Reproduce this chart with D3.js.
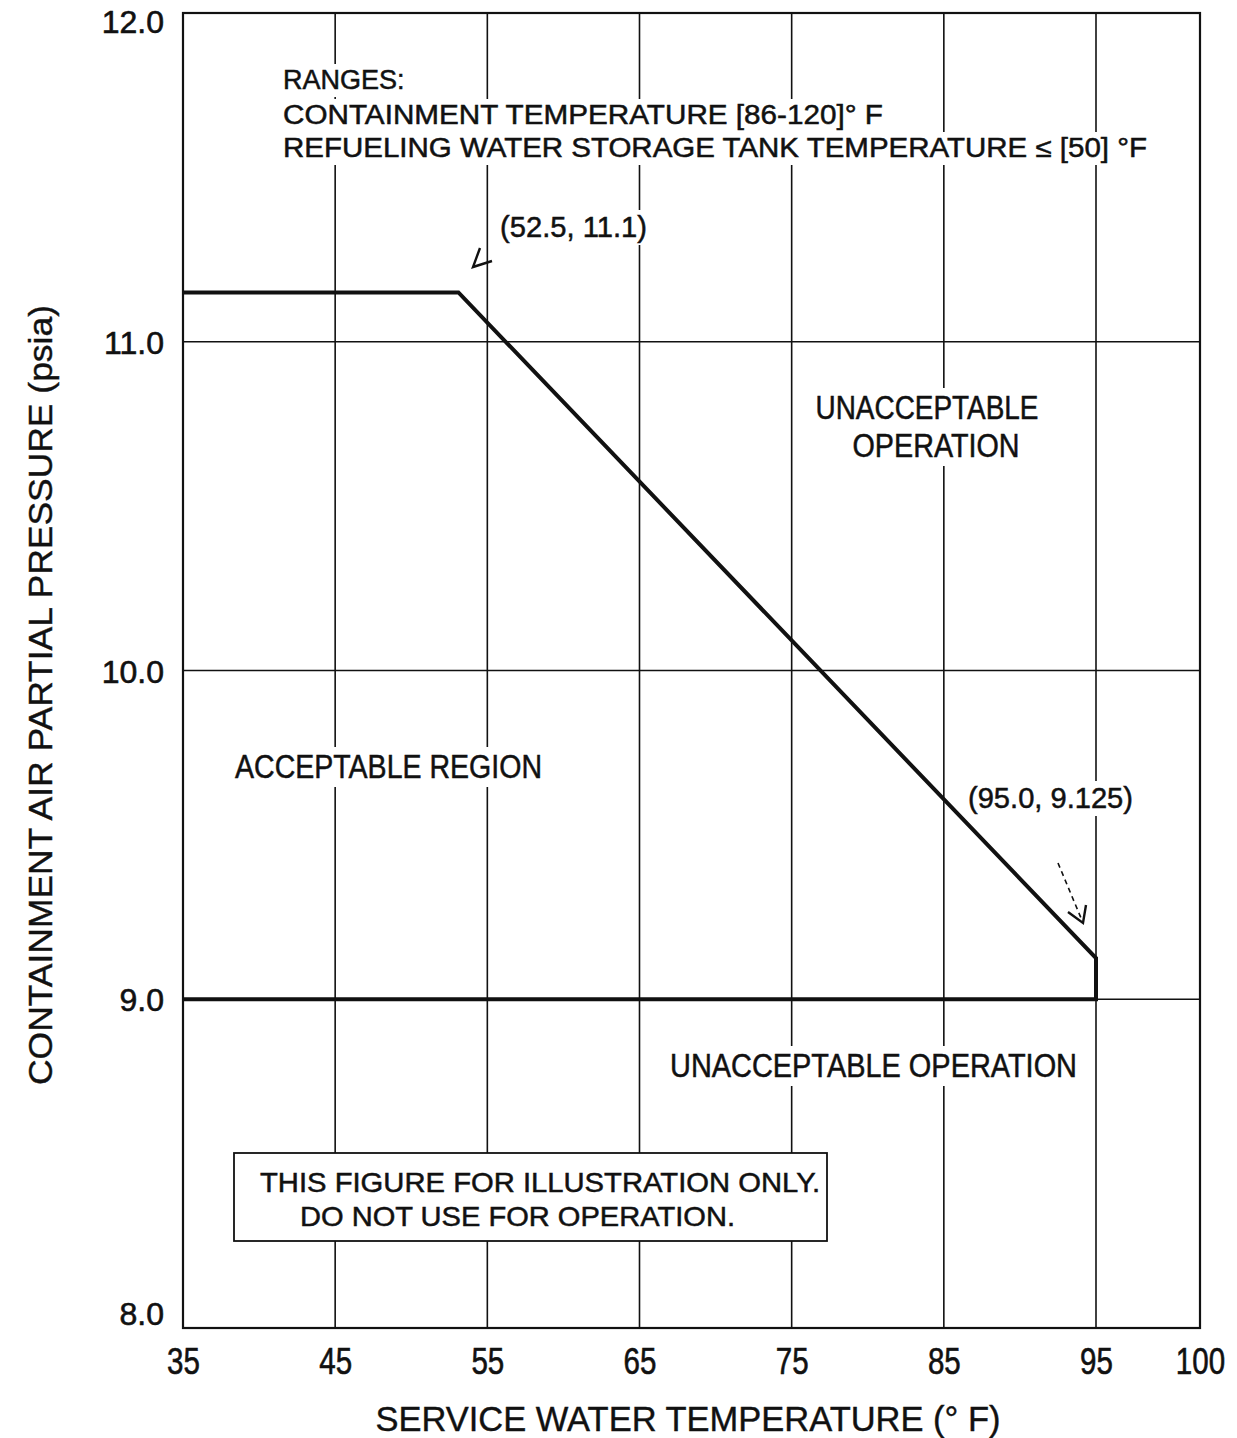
<!DOCTYPE html>
<html>
<head>
<meta charset="utf-8">
<script src="https://cdn.jsdelivr.net/npm/d3@7"></script>
<style>
  html, body { margin: 0; padding: 0; background: #fff; }
  svg text { font-family: "Liberation Sans", Arial, Helvetica, sans-serif; fill: #111; }
</style>
</head>
<body>
<svg id="chart" width="1237" height="1438"></svg>
<script>
// ---------- data ----------
const xTickValues = [35, 45, 55, 65, 75, 85, 95, 100];
const xTickLabels = ["35", "45", "55", "65", "75", "85", "95", "100"];
const yTickValues = [8, 9, 10, 11, 12];
const yTickLabels = ["8.0", "9.0", "10.0", "11.0", "12.0"];
// limit curve: service water temperature (°F) vs containment air partial pressure (psia)
const limitTemp = [35, 53.1, 95.0, 95.0, 35];
const limitPress = [11.15, 11.15, 9.125, 9.0, 9.0];

// ---------- layout ----------
const svg = d3.select("#chart");
const pL = 183, pR = 1200, pT = 13, pB = 1328;
const ink = "#111";

const x = d3.scaleLinear().domain([35, 95, 100]).range([pL, 1096, pR]);
const y = d3.scaleLinear().domain([8, 12]).range([pB, pT]);

// grid lines
const grid = svg.append("g");
grid.selectAll("line.v").data(xTickValues.filter(v => v > 35 && v < 100)).join("line")
  .attr("class", "v")
  .attr("x1", d => x(d)).attr("x2", d => x(d))
  .attr("y1", pT).attr("y2", pB)
  .attr("stroke", ink).attr("stroke-width", 1.6);
grid.selectAll("line.h").data(yTickValues.filter(v => v > 8 && v < 12)).join("line")
  .attr("class", "h")
  .attr("x1", pL).attr("x2", pR)
  .attr("y1", d => y(d)).attr("y2", d => y(d))
  .attr("stroke", ink).attr("stroke-width", 1.6);

// frame
svg.append("rect").attr("x", pL).attr("y", pT)
  .attr("width", pR - pL).attr("height", pB - pT)
  .attr("fill", "none").attr("stroke", ink).attr("stroke-width", 2.2);

// limit curve
const pts = limitTemp.map((t, i) => [t, limitPress[i]]);
svg.append("path")
  .attr("d", d3.line().x(d => x(d[0])).y(d => y(d[1]))(pts))
  .attr("fill", "none").attr("stroke", ink).attr("stroke-width", 4)
  .attr("stroke-linejoin", "miter");

// axes tick labels
const xAxis = d3.axisBottom(x).tickValues(xTickValues)
  .tickFormat((d, i) => xTickLabels[i]).tickSize(0).tickPadding(0);
const gx = svg.append("g").attr("transform", `translate(0,${pB})`).call(xAxis);
gx.select(".domain").remove();
gx.selectAll("text").attr("font-size", 36).attr("dy", null).attr("y", 46)
  .style("font-family", "'Liberation Sans', Arial, sans-serif")
  .attr("fill", ink).attr("stroke", ink).attr("stroke-width", 0.6);
gx.selectAll("text").each(function () {
  const w = this.getComputedTextLength();
  d3.select(this).attr("textLength", w * 0.82).attr("lengthAdjust", "spacingAndGlyphs");
});

const yAxis = d3.axisLeft(y).tickValues(yTickValues)
  .tickFormat((d, i) => yTickLabels[i]).tickSize(0).tickPadding(19);
const gy = svg.append("g").attr("transform", `translate(${pL},0)`).call(yAxis);
gy.select(".domain").remove();
gy.selectAll("text").attr("font-size", 32).attr("fill", ink)
  .attr("stroke", ink).attr("stroke-width", 0.6)
  .style("font-family", "'Liberation Sans', Arial, sans-serif")
  .attr("dy", d => d === 12 ? "0.62em" : d === 8 ? "-0.12em" : "0.36em");

// axis titles
svg.append("text").attr("x", 688).attr("y", 1431)
  .attr("text-anchor", "middle").attr("font-size", 35)
  .attr("stroke", ink).attr("stroke-width", 0.4)
  .attr("textLength", 625).attr("lengthAdjust", "spacingAndGlyphs")
  .text("SERVICE WATER TEMPERATURE (° F)");
svg.append("text").attr("transform", "translate(52,695) rotate(-90)")
  .attr("text-anchor", "middle").attr("font-size", 33)
  .attr("stroke", ink).attr("stroke-width", 0.4)
  .attr("textLength", 780).attr("lengthAdjust", "spacingAndGlyphs")
  .text("CONTAINMENT AIR PARTIAL PRESSURE (psia)");

// arrows
svg.append("path").attr("d", "M480,248 L473,267 L492,261")
  .attr("fill", "none").attr("stroke", ink).attr("stroke-width", 2.4);
svg.append("line").attr("x1", 1058).attr("y1", 863).attr("x2", 1081).attr("y2", 918)
  .attr("stroke", ink).attr("stroke-width", 1.6).attr("stroke-dasharray", "5,4");
svg.append("path").attr("d", "M1068,912 L1083,923 L1086,905")
  .attr("fill", "none").attr("stroke", ink).attr("stroke-width", 2.4);

// disclaimer box (drawn before its text)
svg.append("rect").attr("x", 234).attr("y", 1153).attr("width", 593).attr("height", 88)
  .attr("fill", "#fff").attr("stroke", ink).attr("stroke-width", 1.8);

// annotation texts on white patches that interrupt the grid lines
const notes = svg.append("g");
function label(tx, ty, str, size, len, anchor) {
  const g = notes.append("g");
  const bg = g.append("rect").attr("fill", "#fff");
  const t = g.append("text").attr("x", tx).attr("y", ty)
    .attr("font-size", size).attr("text-anchor", anchor || "start")
    .attr("stroke", ink).attr("stroke-width", 0.5)
    .text(str);
  if (len) t.attr("textLength", len).attr("lengthAdjust", "spacingAndGlyphs");
  const b = t.node().getBBox();
  bg.attr("x", b.x - 3).attr("y", b.y - 1).attr("width", b.width + 6).attr("height", b.height + 3);
  return t;
}
label(283, 89, "RANGES:", 27, null);
label(283, 124, "CONTAINMENT TEMPERATURE [86-120]° F", 27, 600);
label(283, 157, "REFUELING WATER STORAGE TANK TEMPERATURE \u2264 [50] °F", 27, 864);
label(500, 237, "(52.5, 11.1)", 29, 147);
label(927, 419, "UNACCEPTABLE", 33, 223, "middle");
label(936, 457, "OPERATION", 33, 167, "middle");
label(235, 778, "ACCEPTABLE REGION", 33, 307);
label(968, 808, "(95.0, 9.125)", 29, 165);
label(670, 1077, "UNACCEPTABLE OPERATION", 33, 407);
label(260, 1192, "THIS FIGURE FOR ILLUSTRATION ONLY.", 28, 560);
label(300, 1226, "DO NOT USE FOR OPERATION.", 28, 435);
</script>
</body>
</html>
